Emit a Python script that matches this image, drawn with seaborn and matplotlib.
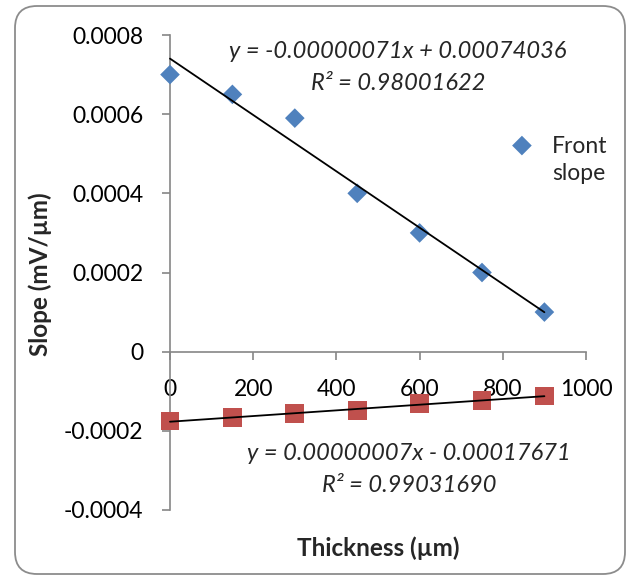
import numpy as np
import pandas as pd
import seaborn as sns
import matplotlib
matplotlib.use("Agg")
import matplotlib.pyplot as plt
from matplotlib.patches import FancyBboxPatch
from matplotlib.transforms import IdentityTransform
from matplotlib.legend_handler import HandlerPathCollection

# ---- data ----
thickness = [0, 150, 300, 450, 600, 750, 900]
front_slope = [0.0007, 0.00065, 0.00059, 0.0004, 0.0003, 0.0002, 0.0001]
back_slope = [-0.000175, -0.000166, -0.000157, -0.000149, -0.000131, -0.000123, -0.000112]
x_ticks = [0, 200, 400, 600, 800, 1000]
y_ticks = [-0.0004, -0.0002, 0, 0.0002, 0.0004, 0.0006, 0.0008]
y_tick_labels = ["-0.0004", "-0.0002", "0", "0.0002", "0.0004", "0.0006", "0.0008"]
front_eq = "y = -0.00000071x + 0.00074036"
front_r2 = "R² = 0.98001622"
back_eq = "y = 0.00000007x - 0.00017671"
back_r2 = "R² = 0.99031690"
front_label = "Front\nslope"
x_label = "Thickness (µm)"
y_label = "Slope (mV/µm)"

sns.set_theme(style="white")
plt.rcParams["font.family"] = ["Lato", "DejaVu Sans"]

df = pd.DataFrame({"thickness": thickness, "front": front_slope, "back": back_slope})

W, H = 627, 577
fig = plt.figure(figsize=(W / 100, H / 100), dpi=100)
ax = fig.add_axes([170 / W, 1 - 510 / H, 416 / W, 475 / H])

blue = "#4F81BD"
red = "#C0504D"
grey = "#868686"

sns.scatterplot(data=df, x="thickness", y="front", marker="D", s=100, color=blue,
                edgecolor="none", ax=ax, label=front_label, zorder=3, clip_on=False)
sns.scatterplot(data=df, x="thickness", y="back", marker="s", s=180, color=red,
                edgecolor="none", ax=ax, zorder=3, clip_on=False)
sns.regplot(data=df, x="thickness", y="front", ci=None, scatter=False, ax=ax,
            line_kws=dict(color="black", lw=1.3, zorder=4, clip_on=False))
sns.regplot(data=df, x="thickness", y="back", ci=None, scatter=False, ax=ax,
            line_kws=dict(color="black", lw=1.3, zorder=4, clip_on=False))

ax.set_xlim(0, 1000)
ax.set_ylim(-0.0004, 0.0008)
ax.set_xticks(x_ticks)
ax.set_xticklabels([str(t) for t in x_ticks])
ax.set_yticks(y_ticks)
ax.set_yticklabels(y_tick_labels)

for s in ["top", "right"]:
    ax.spines[s].set_visible(False)
ax.spines["bottom"].set_position(("data", 0))
for s in ["left", "bottom"]:
    ax.spines[s].set_color(grey)
    ax.spines[s].set_linewidth(1.2)
ax.tick_params(axis="both", which="major", direction="out", length=6, width=1.2,
               color=grey, labelsize=16.5, labelcolor="black")
ax.tick_params(axis="x", pad=14, bottom=True)
ax.tick_params(axis="y", pad=13, left=True)

ax.set_xlabel("")
ax.set_ylabel("")
fig.text(378 / W, 1 - 548 / H, x_label, ha="center", va="center",
         fontsize=17.5, fontweight="bold")
fig.text(40 / W, 1 - 274 / H, y_label, ha="center", va="center",
         fontsize=17.5, fontweight="bold", rotation=90)

fig.text(398 / W, 1 - 52 / H, front_eq, ha="center", va="center", fontsize=17, style="italic")
fig.text(398 / W, 1 - 84 / H, front_r2, ha="center", va="center", fontsize=17, style="italic")
fig.text(409 / W, 1 - 453 / H, back_eq, ha="center", va="center", fontsize=17, style="italic")
fig.text(409 / W, 1 - 485 / H, back_r2, ha="center", va="center", fontsize=17, style="italic")


class TopAlignedHandler(HandlerPathCollection):
    def create_artists(self, legend, orig_handle, xdescent, ydescent, width, height,
                       fontsize, trans):
        arts = super().create_artists(legend, orig_handle, xdescent, ydescent, width,
                                      height, fontsize, trans)
        for a in arts:
            off = np.asarray(a.get_offsets(), dtype=float)
            off[:, 1] += 12.5
            a.set_offsets(off)
        return arts


handles, labels = ax.get_legend_handles_labels()
leg = ax.legend(handles, labels, loc="upper left", bbox_to_anchor=(499 / W, 1 - 125 / H),
                bbox_transform=fig.transFigure, frameon=False, fontsize=16.5,
                handlelength=1.0, handletextpad=0.8, borderpad=0, labelspacing=0.2,
                handler_map={handles[0]: TopAlignedHandler()})
for t in leg.get_texts():
    t.set_linespacing(1.35)

border = FancyBboxPatch((15, 3), 610, 568, boxstyle="round,pad=0,rounding_size=22",
                        transform=IdentityTransform(), facecolor="none",
                        edgecolor="#8c8c8c", linewidth=1.3)
fig.add_artist(border)

fig.savefig("out.png", dpi=100)
